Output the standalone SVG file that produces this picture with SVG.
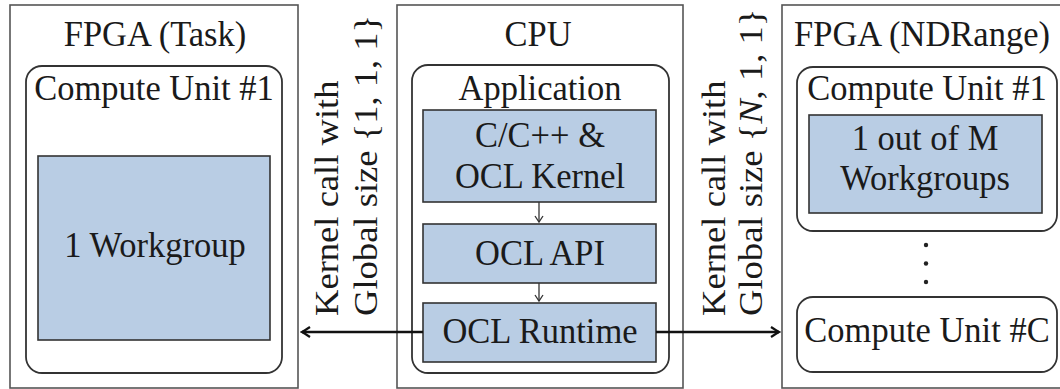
<svg xmlns="http://www.w3.org/2000/svg" width="1060" height="389" viewBox="0 0 1060 389">
<defs>
<style>
.t{font-family:'Liberation Serif','Tinos','DejaVu Serif',serif;font-size:34.5px;fill:#1a1a1a}
.m{text-anchor:middle}
.outer{fill:#fff;stroke:#555;stroke-width:1.6}
.cu{fill:#fff;stroke:#333;stroke-width:1.8}
.blue{fill:#b9cde4;stroke:#333;stroke-width:1.6}
.thin{fill:none;stroke:#333;stroke-width:1.3}
.thick{fill:none;stroke:#111;stroke-width:2.6}
</style>
<marker id="ah" viewBox="-10 -6 12 12" markerWidth="12" markerHeight="12" refX="0" refY="0" orient="auto" markerUnits="userSpaceOnUse">
<path d="M-8,-5 Q-2,-1 0,0 Q-2,1 -8,5" fill="none" stroke="#111" stroke-width="2.2"/>
</marker>
<marker id="as" viewBox="-8 -5 10 10" markerWidth="10" markerHeight="10" refX="0" refY="0" orient="auto" markerUnits="userSpaceOnUse">
<path d="M-6,-4 Q-1.5,-1 0,0 Q-1.5,1 -6,4" fill="none" stroke="#333" stroke-width="1.3"/>
</marker>
</defs>
<rect width="1060" height="389" fill="#fff"/>

<g id="fpga-task">
<rect class="outer" x="10" y="5" width="288" height="383"/>
<text class="t m" font-family="Liberation Serif" transform="translate(155,46) scale(1,1.06)">FPGA (Task)</text>
<rect class="cu" x="26" y="66" width="256" height="307" rx="16"/>
<text class="t m" font-family="Liberation Serif" transform="translate(154,100) scale(1,1.06)">Compute Unit #1</text>
<rect class="blue" x="38" y="156" width="232" height="184"/>
<text class="t m" font-family="Liberation Serif" transform="translate(155,257) scale(1,1.06)">1 Workgroup</text>
</g>

<g id="cpu">
<rect class="outer" x="397" y="5" width="286" height="383"/>
<text class="t m" font-family="Liberation Serif" transform="translate(538,46) scale(1,1.06)">CPU</text>
<rect class="cu" x="412" y="65" width="257" height="308" rx="16"/>
<text class="t m" font-family="Liberation Serif" transform="translate(540,100) scale(1,1.06)">Application</text>
</g>

<g id="ocl-kernel">
<rect class="blue" x="423" y="110" width="233" height="92"/>
<text class="t m" font-family="Liberation Serif" transform="translate(540,147) scale(1,1.06)">C/C++ &amp;</text>
<text class="t m" font-family="Liberation Serif" transform="translate(540,188) scale(1,1.06)">OCL Kernel</text>
</g>
<g id="ocl-api">
<rect class="blue" x="423" y="224" width="233" height="59"/>
<text class="t m" font-family="Liberation Serif" transform="translate(540,265) scale(1,1.06)">OCL API</text>
</g>
<g id="ocl-runtime">
<rect class="blue" x="423" y="303" width="233" height="59"/>
<text class="t m" font-family="Liberation Serif" transform="translate(540,343) scale(1,1.06)">OCL Runtime</text>
</g>

<g id="fpga-ndrange">
<rect class="outer" x="782" y="5" width="285" height="383"/>
<text class="t m" font-family="Liberation Serif" transform="translate(922,46) scale(1,1.06)">FPGA (NDRange)</text>
<rect class="cu" x="797" y="67" width="260" height="164" rx="16"/>
<text class="t m" font-family="Liberation Serif" transform="translate(927,100) scale(1,1.06)">Compute Unit #1</text>
<rect class="blue" x="809" y="115" width="233" height="98"/>
<text class="t m" font-family="Liberation Serif" transform="translate(925,150) scale(1,1.06)">1 out of M</text>
<text class="t m" font-family="Liberation Serif" transform="translate(925,190) scale(1,1.06)">Workgroups</text>
<circle cx="926" cy="245" r="2.2" fill="#222"/>
<circle cx="926" cy="263.5" r="2.2" fill="#222"/>
<circle cx="926" cy="282" r="2.2" fill="#222"/>
<rect class="cu" x="797" y="297" width="260" height="75" rx="16"/>
<text class="t m" font-family="Liberation Serif" transform="translate(927,342) scale(1,1.06)">Compute Unit #C</text>
</g>

<g id="label-task">
<text class="t" font-family="Liberation Serif" transform="translate(338,316) scale(1,1.06) rotate(-90)">Kernel call with</text>
<text class="t" font-family="Liberation Serif" transform="translate(377,316) scale(1,1.06) rotate(-90)">Global size {1, 1, 1}</text>
</g>
<g id="label-ndrange">
<text class="t" font-family="Liberation Serif" transform="translate(725,316) scale(1,1.06) rotate(-90)">Kernel call with</text>
<text class="t" font-family="Liberation Serif" transform="translate(762,316) scale(1,1.06) rotate(-90)">Global size {<tspan font-style="italic">N</tspan>, 1, 1}</text>
</g>

<g id="connectors">
<line class="thin" x1="539" y1="202" x2="539" y2="222" marker-end="url(#as)"/>
<line class="thin" x1="539" y1="283" x2="539" y2="301" marker-end="url(#as)"/>
<line class="thick" x1="423" y1="332" x2="302" y2="332" marker-end="url(#ah)"/>
<line class="thick" x1="656" y1="332" x2="779" y2="332" marker-end="url(#ah)"/>
</g>
</svg>
